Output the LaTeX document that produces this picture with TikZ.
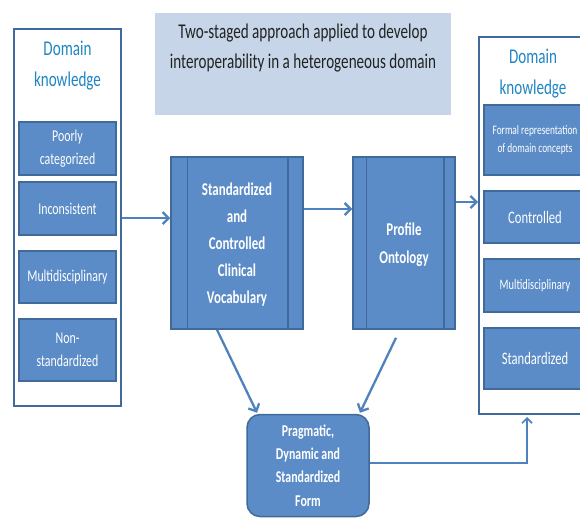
\documentclass[tikz,border=0pt]{standalone}
\usepackage{fontspec}
\setmainfont{Carlito}
\newfontfamily\cond[FakeStretch=0.72]{Carlito}
\usetikzlibrary{arrows.meta}
\definecolor{boxfill}{HTML}{5B8CC7}
\definecolor{boxedge}{HTML}{3F6A9A}
\definecolor{arrowc}{HTML}{4F81BD}
\definecolor{titlefill}{HTML}{C6D6E8}
\definecolor{headc}{HTML}{1F86C4}
\definecolor{titletext}{HTML}{222222}
\tikzset{
  container/.style={draw=boxedge, line width=2pt, fill=white, inner sep=0pt},
  head/.style={text=headc, align=center, font=\cond\fontsize{21}{31}\selectfont},
  item/.style={draw=boxedge, line width=1.5pt, fill=boxfill, text=white, align=center,
    inner sep=0pt, font=\cond\fontsize{16.5}{23}\selectfont},
  rightitem/.style={item, font=\cond\fontsize{17.5}{22}\selectfont},
  narrowitem/.style={item, font=\cond\fontsize{14.5}{20}\selectfont},
  smallitem/.style={item, font=\cond\fontsize{13}{18}\selectfont},
  proc/.style={item, font=\cond\bfseries\fontsize{18}{27}\selectfont},
  bar/.style={draw=boxedge, line width=1.5pt},
  flow/.style={draw=arrowc, line width=2.3pt, -{Straight Barb[length=6pt,width=12pt]}},
  thinflow/.style={draw=arrowc, line width=1.7pt, -{Straight Barb[length=5pt,width=10pt]}},
}
\begin{document}
\begin{tikzpicture}[x=1pt,y=-1pt]
\useasboundingbox (0,0) rectangle (580,517);
\clip (0,0) rectangle (580,517);

% title banner
\node[fill=titlefill, minimum width=296, minimum height=102, inner sep=0pt] (title) at (303,64) {};
\node[text=titletext, align=center, font=\cond\fontsize{21}{30}\selectfont]
  (titletxt) at (303,48.5) {Two-staged approach applied to develop\\interoperability in a heterogeneous domain};

% left domain knowledge column
\node[container, minimum width=107, minimum height=377] (lc) at (67.5,217.5) {};
\node[head] (lh) at (67.5,66) {Domain\\knowledge};
\node[item, minimum width=97, minimum height=53] (l1) at (67.5,148.5) {Poorly\\categorized};
\node[item, minimum width=97, minimum height=53] (l2) at (67.5,208.5) {Inconsistent};
\node[item, minimum width=97, minimum height=52] (l3) at (67.5,277) {Multidisciplinary};
\node[item, minimum width=97, minimum height=62] (l4) at (67.5,350) {Non-\\standardized};

% right domain knowledge column
\node[container, minimum width=112, minimum height=377] (rc) at (535,225.5) {};
\node[head] (rh) at (533,74) {Domain\\knowledge};
\node[smallitem, minimum width=102, minimum height=70] (r1) at (535,140) {Formal representation\\of domain concepts};
\node[rightitem, minimum width=102, minimum height=52] (r2) at (535,217) {Controlled};
\node[narrowitem, minimum width=102, minimum height=53] (r3) at (535,285.5) {Multidisciplinary};
\node[rightitem, minimum width=102, minimum height=61] (r4) at (535,358.5) {Standardized};

% predefined-process boxes
\node[proc, minimum width=132, minimum height=172] (sv) at (237,243) {};
\node[text=white, align=center, font=\cond\bfseries\fontsize{18}{27}\selectfont]
  (svtxt) at (237,245) {Standardized\\and\\Controlled\\Clinical\\Vocabulary};
\draw[bar] ([xshift=17]sv.north west) -- ([xshift=17]sv.south west);
\draw[bar] ([xshift=-16]sv.north east) -- ([xshift=-16]sv.south east);

\node[proc, minimum width=102, minimum height=172] (po) at (404,243) {};
\node[text=white, align=center, font=\cond\bfseries\fontsize{18}{28}\selectfont]
  (potxt) at (404,245) {Profile\\Ontology};
\draw[bar] ([xshift=14]po.north west) -- ([xshift=14]po.south west);
\draw[bar] ([xshift=-12]po.north east) -- ([xshift=-12]po.south east);

% resulting form
\node[proc, rounded corners=13pt, minimum width=122, minimum height=102,
      font=\cond\bfseries\fontsize{16.5}{23.3}\selectfont] (pf) at (308,465.5)
  {Pragmatic,\\Dynamic and\\Standardized\\Form};

% connectors
\coordinate (y1) at (0,218);
\coordinate (y2) at (0,209);
\coordinate (y3) at (0,202);
\draw[flow] (lc.east |- y1) -- (sv.west |- y1);
\draw[flow] (sv.east |- y2) -- (po.west |- y2);
\draw[flow] (po.east |- y3) -- (rc.west |- y3);
\draw[flow] ([xshift=-20]sv.south) -- ([xshift=-51,yshift=1]pf.north);
\draw[flow] ([xshift=-8,yshift=-8]po.south) -- ([xshift=52,yshift=1]pf.north);
\draw[thinflow] (pf.east |- 0,463) -| ([xshift=-8,yshift=-2]rc.south);
\end{tikzpicture}
\end{document}
